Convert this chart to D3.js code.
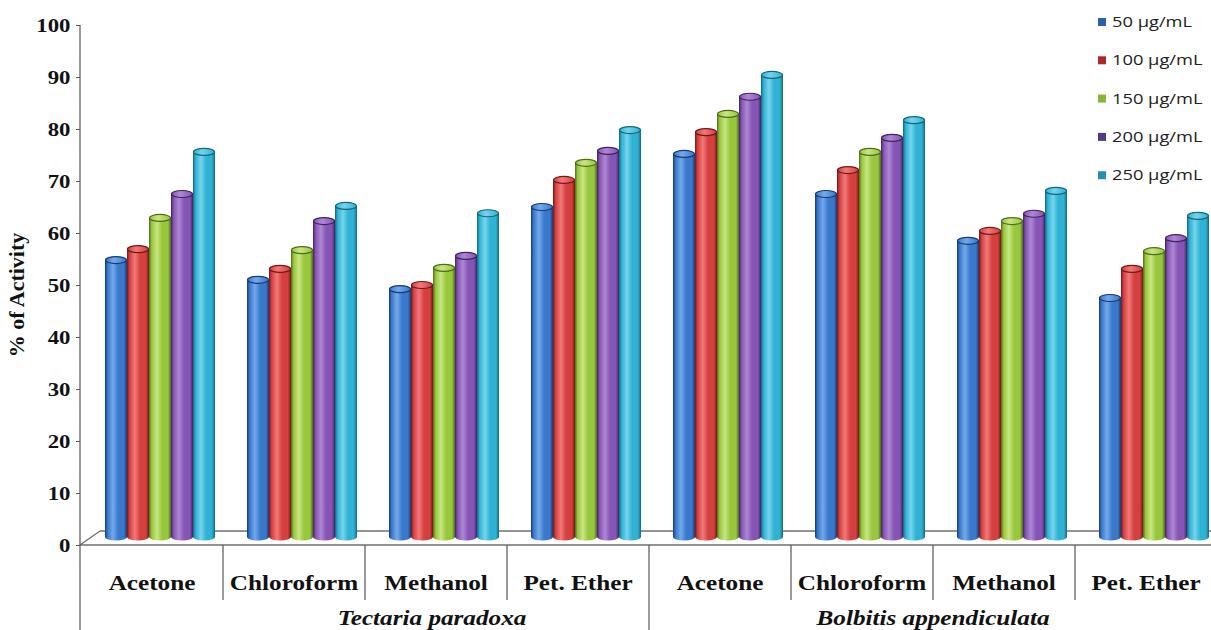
<!DOCTYPE html>
<html>
<head>
<meta charset="utf-8">
<script src="https://cdn.jsdelivr.net/npm/d3@7"></script>
<style>
  body { margin: 0; background: #fff; }
  svg { display: block; }
</style>
</head>
<body>
<svg></svg>
<script>
const width = 1211;
const height = 630;

// data
const solvents = ["Acetone", "Chloroform", "Methanol", "Pet. Ether"];
const species = ["Tectaria paradoxa", "Bolbitis appendiculata"];
const seriesNames = ["50 μg/mL", "100 μg/mL", "150 μg/mL", "200 μg/mL", "250 μg/mL"];
const conc50  = [54.8, 51.0, 49.2, 65.0, 75.2, 67.5, 58.5, 47.5];
const conc100 = [56.9, 53.1, 50.0, 70.2, 79.4, 72.1, 60.4, 53.1];
const conc150 = [62.9, 56.7, 53.3, 73.5, 82.9, 75.6, 62.3, 56.5];
const conc200 = [67.5, 62.3, 55.6, 75.8, 86.2, 78.3, 63.7, 59.0];
const conc250 = [75.6, 65.2, 63.8, 79.8, 90.4, 81.7, 68.1, 63.3];
const yTicks = [0, 10, 20, 30, 40, 50, 60, 70, 80, 90, 100];

const seriesValues = [conc50, conc100, conc150, conc200, conc250];
const colors = [
    { base: "#3a78cc", light: "#74aaec", dark: "#173a70", key: "#2c5fa8" },
    { base: "#d43f40", light: "#f27a78", dark: "#721718", key: "#b0282a" },
    { base: "#98c63c", light: "#c8e683", dark: "#4e6c1a", key: "#8bb43a" },
    { base: "#8654b4", light: "#ae88d4", dark: "#40225e", key: "#553982" },
    { base: "#2fb2d3", light: "#76d4ec", dark: "#13667e", key: "#2590b3" }
];

const svg = d3.select("svg")
    .attr("width", width)
    .attr("height", height);

const serif = "'Times New Roman', 'Liberation Serif', serif";
const axisX = 80;
const floorY = 537;

const y = d3.scaleLinear().domain([0, 100]).range([545, 25]);

const keys = [];
species.forEach((s, gi) => solvents.forEach((c, ci) => keys.push(gi * solvents.length + ci)));

const x = d3.scaleBand()
    .domain(keys)
    .range([axisX + 1, axisX + 1 + 142 * keys.length]);

const xInner = d3.scaleBand()
    .domain(seriesNames)
    .range([24, 134]);

// gradients for the cylinders
const defs = svg.append("defs");
colors.forEach((c, i) => {
    const g = defs.append("linearGradient")
        .attr("id", "cyl" + i)
        .attr("x1", "0%").attr("x2", "100%").attr("y1", "0%").attr("y2", "0%");
    [[0, c.dark], [0.12, c.base], [0.36, c.light], [0.6, c.base], [0.86, c.base], [1, c.dark]]
        .forEach(([o, col]) => g.append("stop").attr("offset", o).attr("stop-color", col));
    const t = defs.append("linearGradient")
        .attr("id", "cap" + i)
        .attr("x1", "0%").attr("x2", "100%").attr("y1", "0%").attr("y2", "0%");
    [[0, c.base], [0.4, c.light], [1, c.base]]
        .forEach(([o, col]) => t.append("stop").attr("offset", o).attr("stop-color", col));
});

// floor of the 3D plot
const floor = svg.append("g").attr("stroke", "#6e6e6e").attr("stroke-width", 1.3).attr("fill", "none");
floor.append("line").attr("x1", axisX).attr("x2", width).attr("y1", y(0)).attr("y2", y(0));
floor.append("line").attr("x1", axisX + 20).attr("x2", width).attr("y1", y(0) - 14).attr("y2", y(0) - 14);
floor.append("line").attr("x1", axisX).attr("x2", axisX + 20).attr("y1", y(0)).attr("y2", y(0) - 14);

// cylinders
const bars = [];
seriesValues.forEach((vals, si) => {
    vals.forEach((v, k) => bars.push({ k, si, v }));
});

const bw = xInner.bandwidth();
const ry = 3.5;

const cyl = svg.append("g").selectAll("g")
    .data(bars)
    .enter().append("g")
    .attr("transform", d => `translate(${x(d.k) + xInner(seriesNames[d.si])},0)`);

cyl.append("path")
    .attr("d", d => {
        const top = y(d.v);
        return `M0,${top} L0,${floorY} A${bw / 2},${ry} 0 0 0 ${bw},${floorY} L${bw},${top} Z`;
    })
    .attr("fill", d => `url(#cyl${d.si})`);

cyl.append("ellipse")
    .attr("cx", bw / 2)
    .attr("cy", d => y(d.v))
    .attr("rx", bw / 2 - 0.5)
    .attr("ry", ry)
    .attr("fill", d => `url(#cap${d.si})`)
    .attr("stroke", d => colors[d.si].dark)
    .attr("stroke-width", 1.2);

// y axis
const yAxis = svg.append("g")
    .attr("transform", `translate(${axisX},0)`)
    .call(d3.axisLeft(y).tickValues(yTicks).tickSize(4).tickSizeOuter(0).tickPadding(4));

yAxis.select(".domain").remove();
yAxis.selectAll("line").attr("stroke", "#555");
yAxis.selectAll("text")
    .attr("font-family", serif)
    .attr("font-weight", "bold")
    .attr("font-size", 19)
    .attr("fill", "#111")
    .attr("transform", "scale(1.2,1)");

svg.append("line")
    .attr("x1", axisX).attr("x2", axisX)
    .attr("y1", y(100)).attr("y2", height)
    .attr("stroke", "#555").attr("stroke-width", 1.2);

svg.append("text")
    .attr("transform", `translate(24,${(y(100) + y(0)) / 2 + 10}) rotate(-90)`)
    .attr("text-anchor", "middle")
    .attr("font-family", serif)
    .attr("font-weight", "bold")
    .attr("font-size", 22)
    .attr("fill", "#111")
    .text("% of Activity");

// category labels and dividers
const labels = svg.append("g");
keys.forEach(k => {
    const xc = x(k) + x.bandwidth() / 2;
    labels.append("text")
        .attr("transform", `translate(${xc},590) scale(1.2,1)`)
        .attr("text-anchor", "middle")
        .attr("font-family", serif)
        .attr("font-weight", "bold")
        .attr("font-size", 21)
        .attr("fill", "#111")
        .text(solvents[k % solvents.length]);
    if (k > 0) {
        labels.append("line")
            .attr("x1", x(k)).attr("x2", x(k))
            .attr("y1", y(0)).attr("y2", k % solvents.length === 0 ? height : 600)
            .attr("stroke", "#555").attr("stroke-width", 1.2);
    }
});

// species labels
const speciesX = [
    x(2) + x.bandwidth() / 2 - 4,
    x(5) + x.bandwidth()
];
species.forEach((s, i) => {
    labels.append("text")
        .attr("transform", `translate(${speciesX[i]},625) scale(1.2,1)`)
        .attr("text-anchor", "middle")
        .attr("font-family", serif)
        .attr("font-weight", "bold")
        .attr("font-style", "italic")
        .attr("font-size", 21)
        .attr("fill", "#111")
        .text(s);
});

// legend
const legend = svg.append("g")
    .attr("transform", "translate(1098,22)");

const legendItem = legend.selectAll(".legend-item")
    .data(seriesNames)
    .enter().append("g")
    .attr("class", "legend-item")
    .attr("transform", (d, i) => `translate(0,${i * 38.3})`);

legendItem.append("rect")
    .attr("x", 0)
    .attr("y", -4)
    .attr("width", 8)
    .attr("height", 8)
    .attr("fill", (d, i) => colors[i].key);

legendItem.append("text")
    .attr("transform", "translate(14,5) scale(1.22,1)")
    .attr("font-family", "'Open Sans', sans-serif")
    .attr("font-size", 15)
    .attr("fill", "#222")
    .text(d => d);
</script>
</body>
</html>
